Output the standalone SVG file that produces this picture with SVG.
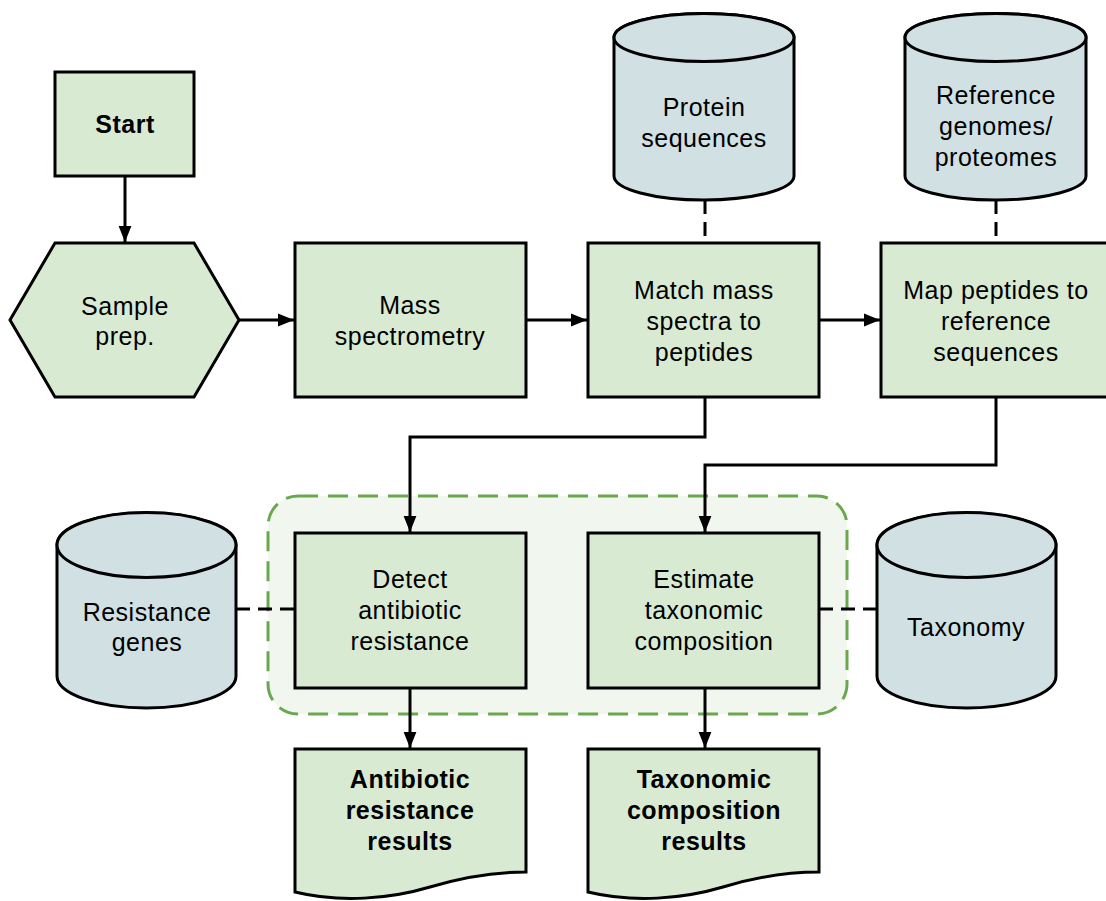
<svg xmlns="http://www.w3.org/2000/svg" width="1106" height="901" viewBox="0 0 1106 901">
<style>
.box{fill:#d9ead3;stroke:#000;stroke-width:3}
.db{fill:#d0e0e3;stroke:#000;stroke-width:3}
.t{font-family:"Liberation Sans",Arial,sans-serif;font-size:25px;letter-spacing:0.5px;fill:#000;text-anchor:middle}
.b{font-weight:bold}
.c{fill:none;stroke:#000;stroke-width:3}
.d{fill:none;stroke:#000;stroke-width:3;stroke-dasharray:14,8}
</style>
<defs>
<marker id="ah" markerUnits="userSpaceOnUse" markerWidth="16" markerHeight="20" viewBox="0 0 20 16" refX="20" refY="8" orient="auto">
<path d="M0,0 L20,8 L0,16 Z" fill="#000"/>
</marker>
</defs>
<rect width="1106" height="901" fill="#fff"/>
<g id="group">
<rect x="268" y="496" width="579" height="218" rx="30" fill="#f1f7ee" stroke="#6aa84f" stroke-width="3" stroke-dasharray="20,10"/>
</g>
<g id="connectors">
<path class="c" d="M125,176 V242" marker-end="url(#ah)"/>
<path class="c" d="M239,320 H294" marker-end="url(#ah)"/>
<path class="c" d="M526,320 H587" marker-end="url(#ah)"/>
<path class="c" d="M819,320 H880" marker-end="url(#ah)"/>
<path class="c" d="M705,397 V437 H410 V532" marker-end="url(#ah)"/>
<path class="c" d="M996,397 V465 H705 V532" marker-end="url(#ah)"/>
<path class="c" d="M410,688 V748" marker-end="url(#ah)"/>
<path class="c" d="M705,688 V748" marker-end="url(#ah)"/>
<path class="d" d="M705,200 V243"/>
<path class="d" d="M996,200 V243"/>
<path class="d" d="M236,609 H295"/>
<path class="d" d="M819,609 H877"/>
</g>
<g id="start">
<rect class="box" x="55" y="72" width="139" height="104"/>
<text class="t b" x="125" y="133">Start</text>
</g>
<g id="sample-prep">
<polygon class="box" points="10,320 55,243 194,243 239,320 194,397 55,397"/>
<text class="t" x="125" y="315">Sample</text>
<text class="t" x="125" y="345">prep.</text>
</g>
<g id="mass-spec">
<rect class="box" x="295" y="243" width="231" height="154"/>
<text class="t" x="410" y="314">Mass</text>
<text class="t" x="410" y="345">spectrometry</text>
</g>
<g id="match">
<rect class="box" x="588" y="243" width="231" height="154"/>
<text class="t" x="704" y="299">Match mass</text>
<text class="t" x="704" y="330">spectra to</text>
<text class="t" x="704" y="361">peptides</text>
</g>
<g id="map">
<rect class="box" x="881" y="243" width="231" height="154"/>
<text class="t" x="996" y="299">Map peptides to</text>
<text class="t" x="996" y="330">reference</text>
<text class="t" x="996" y="361">sequences</text>
</g>
<g id="protein-db">
<path class="db" d="M614,37.5 V176 A90,24 0 0 0 794,176 V37.5 A90,24 0 0 0 614,37.5 Z"/>
<ellipse class="db" cx="704" cy="37.5" rx="90" ry="24"/>
<text class="t" x="704" y="116">Protein</text>
<text class="t" x="704" y="147">sequences</text>
</g>
<g id="reference-db">
<path class="db" d="M905,37.5 V176 A90.5,24 0 0 0 1086,176 V37.5 A90.5,24 0 0 0 905,37.5 Z"/>
<ellipse class="db" cx="995.5" cy="37.5" rx="90.5" ry="24"/>
<text class="t" x="996" y="104">Reference</text>
<text class="t" x="996" y="135">genomes/</text>
<text class="t" x="996" y="166">proteomes</text>
</g>
<g id="resistance-db">
<path class="db" d="M57,545 V676 A89.5,32 0 0 0 236,676 V545 A89.5,32 0 0 0 57,545 Z"/>
<ellipse class="db" cx="146.5" cy="545" rx="89.5" ry="32.5"/>
<text class="t" x="147" y="621">Resistance</text>
<text class="t" x="147" y="651">genes</text>
</g>
<g id="taxonomy-db">
<path class="db" d="M877,545 V676 A89.5,32 0 0 0 1056,676 V545 A89.5,32 0 0 0 877,545 Z"/>
<ellipse class="db" cx="966.5" cy="545" rx="89.5" ry="32.5"/>
<text class="t" x="966" y="636">Taxonomy</text>
</g>
<g id="detect">
<rect class="box" x="295" y="533" width="231" height="155"/>
<text class="t" x="410" y="588">Detect</text>
<text class="t" x="410" y="619">antibiotic</text>
<text class="t" x="410" y="650">resistance</text>
</g>
<g id="estimate">
<rect class="box" x="588" y="533" width="231" height="155"/>
<text class="t" x="704" y="588">Estimate</text>
<text class="t" x="704" y="619">taxonomic</text>
<text class="t" x="704" y="650">composition</text>
</g>
<g id="antibiotic-results">
<path class="box" d="M295,749 H526 V872 C490,872 460,878 430,887 C390,899 340,903 295,892 Z"/>
<text class="t b" x="410" y="788">Antibiotic</text>
<text class="t b" x="410" y="819">resistance</text>
<text class="t b" x="410" y="850">results</text>
</g>
<g id="taxonomic-results">
<path class="box" d="M588,749 H819 V872 C783,872 753,878 723,887 C683,899 633,903 588,892 Z"/>
<text class="t b" x="704" y="788">Taxonomic</text>
<text class="t b" x="704" y="819">composition</text>
<text class="t b" x="704" y="850">results</text>
</g>
</svg>
